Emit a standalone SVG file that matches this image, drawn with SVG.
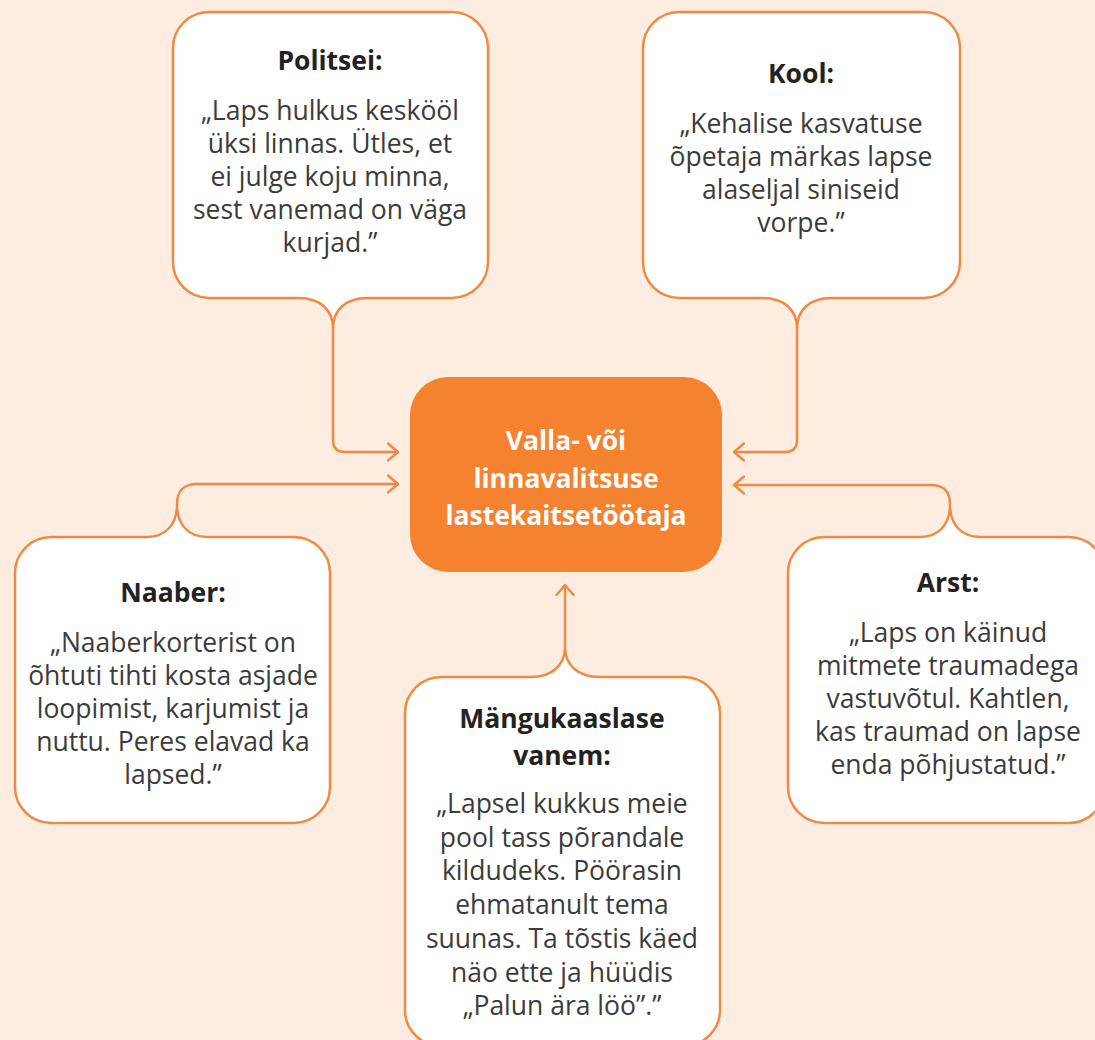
<svg xmlns="http://www.w3.org/2000/svg" width="1095" height="1040" viewBox="0 0 1095 1040">
<style>
.bubble{fill:#ffffff;stroke:#ef8a45;stroke-width:2.5}
.conn{fill:none;stroke:#ef8a45;stroke-width:2.5}
.t{font-family:"Open Sans","Noto Sans",sans-serif;font-size:26.5px;text-anchor:middle}
.h{font-weight:700;fill:#222222}
.b{fill:#3b3b3b}
.c{font-weight:700;fill:#ffffff}
</style>
<defs>
<marker id="arr" viewBox="0 0 12 20" refX="11" refY="10" markerWidth="12" markerHeight="20" markerUnits="userSpaceOnUse" orient="auto">
<path d="M1,1.5 L11,10 L1,18.5" fill="none" stroke="#ef8a45" stroke-width="2.5" stroke-linecap="round" stroke-linejoin="round"/>
</marker>
</defs>
<rect width="1095" height="1040" fill="#fdede0"/>
<g id="connectors">
<path class="conn" d="M333,328 V440 Q333,452 345,452 H398" marker-end="url(#arr)"/>
<path class="conn" d="M797,328 V440 Q797,452 785,452 H734" marker-end="url(#arr)"/>
<path class="conn" d="M177,505 C177,491 183,484 197,484 H398" marker-end="url(#arr)"/>
<path class="conn" d="M950,505 C950,491 944,485 930,485 H734" marker-end="url(#arr)"/>
<path class="conn" d="M565,647 V585" marker-end="url(#arr)"/>
</g>
<g id="center">
<rect x="410" y="377" width="312" height="195" rx="38" fill="#f4822f"/>
<text class="t c" x="566" y="450">Valla- või</text>
<text class="t c" x="566" y="488">linnavalitsuse</text>
<text class="t c" x="566" y="525">lastekaitsetöötaja</text>
</g>
<g id="politsei">
<path class="bubble" d="M209,12 H452 A36,36 0 0 1 488,48 V262 A36,36 0 0 1 452,298 H367 C346,298 333,310 333,328 C333,310 320,298 299,298 H209 A36,36 0 0 1 173,262 V48 A36,36 0 0 1 209,12 Z"/>
<text class="t h" x="330" y="70">Politsei:</text>
<text class="t b" x="330" y="120">„Laps hulkus keskööl</text>
<text class="t b" x="330" y="153">üksi linnas. Ütles, et</text>
<text class="t b" x="330" y="186">ei julge koju minna,</text>
<text class="t b" x="330" y="219">sest vanemad on väga</text>
<text class="t b" x="330" y="252">kurjad.”</text>
</g>
<g id="kool">
<path class="bubble" d="M679,12 H924 A36,36 0 0 1 960,48 V262 A36,36 0 0 1 924,298 H831 C810,298 797,310 797,328 C797,310 784,298 763,298 H679 A36,36 0 0 1 643,262 V48 A36,36 0 0 1 679,12 Z"/>
<text class="t h" x="801" y="83">Kool:</text>
<text class="t b" x="801" y="133">„Kehalise kasvatuse</text>
<text class="t b" x="801" y="166">õpetaja märkas lapse</text>
<text class="t b" x="801" y="199">alaseljal siniseid</text>
<text class="t b" x="801" y="232">vorpe.”</text>
</g>
<g id="naaber">
<path class="bubble" d="M51,537 H147 C165,537 177,525 177,505 C177,525 189,537 207,537 H294 A36,36 0 0 1 330,573 V787 A36,36 0 0 1 294,823 H51 A36,36 0 0 1 15,787 V573 A36,36 0 0 1 51,537 Z"/>
<text class="t h" x="173" y="602">Naaber:</text>
<text class="t b" x="173" y="652">„Naaberkorterist on</text>
<text class="t b" x="173" y="685">õhtuti tihti kosta asjade</text>
<text class="t b" x="173" y="718">loopimist, karjumist ja</text>
<text class="t b" x="173" y="751">nuttu. Peres elavad ka</text>
<text class="t b" x="173" y="784">lapsed.”</text>
</g>
<g id="arst">
<path class="bubble" d="M824,537 H920 C938,537 950,525 950,505 C950,525 962,537 980,537 H1069 A36,36 0 0 1 1105,573 V787 A36,36 0 0 1 1069,823 H824 A36,36 0 0 1 788,787 V573 A36,36 0 0 1 824,537 Z"/>
<text class="t h" x="948" y="592">Arst:</text>
<text class="t b" x="948" y="642">„Laps on käinud</text>
<text class="t b" x="948" y="675">mitmete traumadega</text>
<text class="t b" x="948" y="708">vastuvõtul. Kahtlen,</text>
<text class="t b" x="948" y="741">kas traumad on lapse</text>
<text class="t b" x="948" y="774">enda põhjustatud.”</text>
</g>
<g id="mangukaaslase">
<path class="bubble" d="M441,677 H531 C552,677 565,665 565,647 C565,665 578,677 599,677 H684 A36,36 0 0 1 720,713 V1010 A36,36 0 0 1 684,1046 H441 A36,36 0 0 1 405,1010 V713 A36,36 0 0 1 441,677 Z"/>
<text class="t h" x="562" y="728">Mängukaaslase</text>
<text class="t h" x="562" y="765">vanem:</text>
<text class="t b" x="562" y="813">„Lapsel kukkus meie</text>
<text class="t b" x="562" y="847">pool tass põrandale</text>
<text class="t b" x="562" y="880">kildudeks. Pöörasin</text>
<text class="t b" x="562" y="914">ehmatanult tema</text>
<text class="t b" x="562" y="948">suunas. Ta tõstis käed</text>
<text class="t b" x="562" y="982">näo ette ja hüüdis</text>
<text class="t b" x="562" y="1015">„Palun ära löö”.”</text>
</g>
</svg>
